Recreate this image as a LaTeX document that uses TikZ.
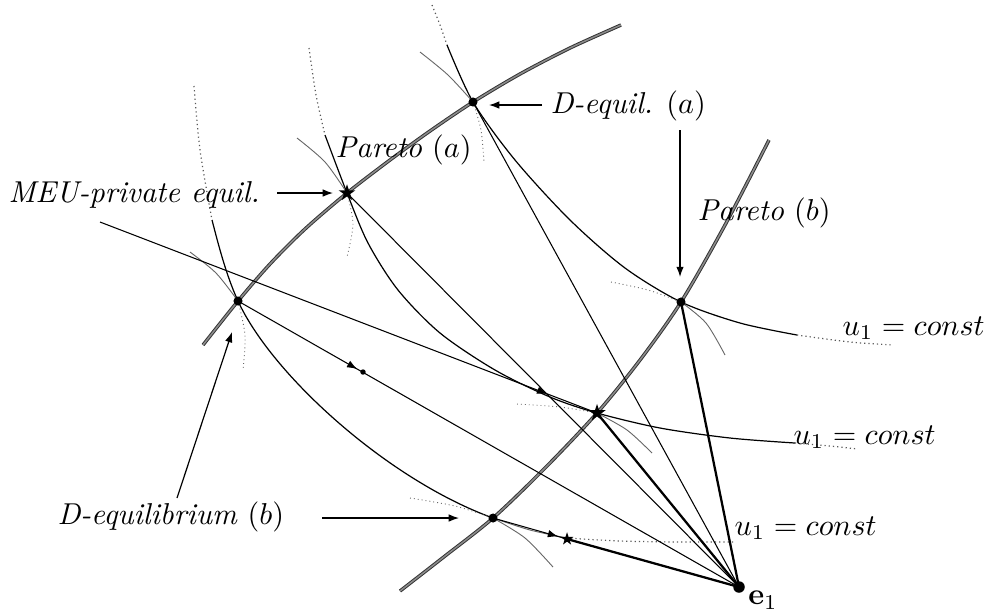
\documentclass[tikz,border=0pt]{standalone}
\usetikzlibrary{arrows.meta,shapes.geometric,decorations.markings}
\begin{document}
\begin{tikzpicture}[x=0.3311pt,y=-0.3311pt,
  contract/.style={draw=black!80,double=black!45,double distance=0.5pt,line width=0.32pt},
  thinln/.style={line width=0.35pt},
  thickln/.style={line width=0.75pt},
  ucurve/.style={line width=0.4pt},
  utail/.style={line width=0.4pt,black!65,densely dotted},
  varc/.style={line width=0.3pt,black!60},
  vtail/.style={line width=0.3pt,black!60,densely dotted},
  arr/.style={-{Latex[length=3.4pt,width=2.5pt]},line width=0.4pt},
  midarr/.style={postaction={decorate},decoration={markings,mark=at position #1 with {\arrow{Latex[length=3.4pt,width=2.5pt]}}}},
  lab/.style={inner sep=0pt,anchor=west},
  dotm/.style={circle,fill,inner sep=0pt,minimum size=3pt},
  starm/.style={star,star points=5,star point ratio=2.6,fill,inner sep=0pt,minimum size=#1},
]
\useasboundingbox (0,0) rectangle (989,614);
% key points
\coordinate (E) at (739,587);
\coordinate (DA) at (473,102);
\coordinate (PA) at (347,193);
\coordinate (LD) at (238,301);
\coordinate (PB) at (681,302);
\coordinate (MS) at (597,413);
\coordinate (BD) at (493,518);
\coordinate (SS) at (567,539);
\coordinate (SD) at (363,372);
\coordinate (M0) at (100,222);

% contract curves
\draw[contract] plot[smooth] coordinates {(203,345) (238,301) (270,264) (305,229) (347,193) (390,160) (430,131) (473,102) (520,74) (570,48) (621,25)};
\draw[contract] plot[smooth] coordinates {(400,591) (445,556) (493,518) (545,468) (597,413) (640,360) (681,302) (725,225) (769,140)};

% u1 curves: top
\draw[utail] plot[smooth] coordinates {(432,5) (440,25) (447,45)};
\draw[ucurve] plot[smooth] coordinates {(447,45) (473,102) (515,160) (570,220) (625,268) (681,302) (740,323) (797,335)};
\draw[utail] plot[smooth] coordinates {(797,335) (850,342) (893,345)};
% middle
\draw[utail] plot[smooth] coordinates {(309,48) (316,95) (325,135)};
\draw[ucurve] plot[smooth] coordinates {(325,135) (347,193) (368,243) (398,290) (440,333) (495,370) (550,397) (597,413) (660,428) (730,438) (795,443)};
\draw[utail] plot[smooth] coordinates {(795,443) (830,446) (858,449)};
% bottom
\draw[utail] plot[smooth] coordinates {(194,86) (200,150) (212,220)};
\draw[ucurve] (212,220) .. controls (218,243) and (226,275) .. (LD)
  .. controls (272,375) and (388,480) .. (BD);
\draw[varc] plot[smooth] coordinates {(493,518) (530,530) (567,538)};
\draw[utail] plot[smooth] coordinates {(567,538) (620,541) (680,542) (734,542)};

% agent-2 arcs
\draw[varc] plot[smooth] coordinates {(420,52) (448,75) (473,102)};
\draw[vtail] plot[smooth] coordinates {(473,102) (481,130) (484,163)};
\draw[varc] plot[smooth] coordinates {(297,138) (325,162) (347,193)};
\draw[vtail] plot[smooth] coordinates {(347,193) (353,224) (347,257)};
\draw[varc] plot[smooth] coordinates {(190,252) (216,273) (238,301)};
\draw[vtail] plot[smooth] coordinates {(238,301) (245,335) (243,370)};
\draw[vtail] plot[smooth] coordinates {(611,282) (648,290) (681,302)};
\draw[varc] plot[smooth] coordinates {(681,302) (706,323) (725,355)};
\draw[vtail] plot[smooth] coordinates {(517,404) (560,407) (597,413)};
\draw[varc] plot[smooth] coordinates {(597,413) (627,430) (652,453)};
\draw[vtail] plot[smooth] coordinates {(410,498) (455,506) (493,518)};
\draw[varc] plot[smooth] coordinates {(493,518) (525,538) (553,567)};

% lines from e1
\draw[thickln] (E) -- (PB);
\draw[thickln] (E) -- (MS);
\draw[thickln] (E) -- (SS);
\draw[thinln] (E) -- (DA);
\draw[thinln] (E) -- (PA);
\draw[thinln,midarr=0.238] (LD) -- (E);
\draw[thinln,midarr=0.9] (M0) -- (MS);
\draw[thinln,midarr=0.88] (BD) -- (SS);

% markers
\node[dotm] (nDA) at (DA) {};
\node[dotm] (nLD) at (LD) {};
\node[dotm] (nPB) at (PB) {};
\node[dotm] (nBD) at (BD) {};
\node[dotm,minimum size=1.8pt] (nSD) at (SD) {};
\node[dotm,minimum size=3.8pt] (nE) at (E) {};
\node[starm=5.8pt] (nPA) at (PA) {};
\node[starm=6pt] (nMS) at (MS) {};
\node[starm=4.5pt] (nSS) at (SS) {};

% labels
\node[lab] (lDA) at (550,106) {\textit{D-equil.} $(a)$};
\node[lab] (lPA) at (335,150) {\textit{Pareto} $(a)$};
\node[lab] (lPB) at (697,213) {\textit{Pareto} $(b)$};
\node[lab] (lMEU) at (8,195) {\textit{MEU-private equil.}};
\node[lab] (lDB) at (57,517) {\textit{D-equilibrium} $(b)$};
\node[lab] (lu1) at (842,328) {$u_1 = const$};
\node[lab] (lu2) at (793,437) {$u_1 = const$};
\node[lab] (lu3) at (734,528) {$u_1 = const$};
\node (le) at (763,600) {$\mathbf{e}_1$};

% label arrows
\coordinate (a1s) at (542,105); \coordinate (a1e) at (489,105);
\coordinate (a2s) at (680,130); \coordinate (a2e) at (680,277);
\coordinate (a3s) at (277,193); \coordinate (a3e) at (333,193);
\coordinate (a4s) at (322,518); \coordinate (a4e) at (459,518);
\coordinate (a5s) at (177,498); \coordinate (a5e) at (232,332);
\draw[arr] (a1s) -- (a1e);
\draw[arr] (a2s) -- (a2e);
\draw[arr] (a3s) -- (a3e);
\draw[arr] (a4s) -- (a4e);
\draw[arr] (a5s) -- (a5e);
\end{tikzpicture}
\end{document}
